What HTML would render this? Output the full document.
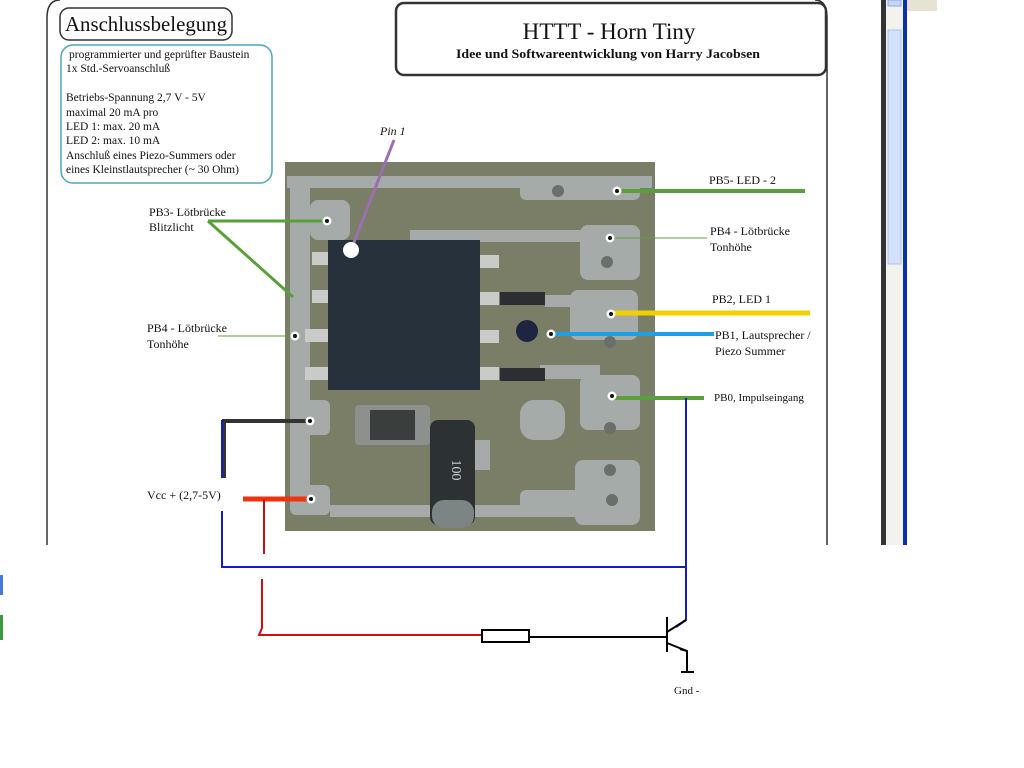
<!DOCTYPE html>
<html><head><meta charset="utf-8"><style>
html,body{margin:0;padding:0;background:#fff;width:1024px;height:768px;overflow:hidden}
svg{display:block}
text{font-family:"Liberation Serif",serif;fill:#111}
</style></head><body>
<svg width="1024" height="768" viewBox="0 0 1024 768">
<path d="M47,545 V18 Q47,0 60,0" fill="none" stroke="#333" stroke-width="1.5"/>
<path d="M815,0 Q827,0 827,18 V545" fill="none" stroke="#333" stroke-width="1.5"/>
<rect x="881" y="0" width="5" height="545" fill="#333"/>
<rect x="886" y="0" width="17" height="545" fill="#f3f3ee"/>
<rect x="888" y="30" width="13" height="234" fill="#d2e2fb" stroke="#a9c0ea"/>
<rect x="888" y="0" width="13" height="6" fill="#c5d6f5" stroke="#8aa7dd"/>
<rect x="903" y="0" width="4" height="545" fill="#0a2fb0"/>
<rect x="907" y="0" width="30" height="11" fill="#e6e3d5"/>
<rect x="0" y="575" width="3" height="20" fill="#4a7ad8"/>
<rect x="0" y="615" width="3" height="25" fill="#3c9a3c"/>
<rect x="396" y="3" width="430" height="72" rx="8" fill="#fff" stroke="#333" stroke-width="2.5"/>
<text x="609" y="39" font-size="23" text-anchor="middle">HTTT - Horn Tiny</text>
<text x="456" y="58" font-size="13" font-weight="bold" textLength="304" lengthAdjust="spacingAndGlyphs">Idee und Softwareentwicklung von Harry Jacobsen</text>
<rect x="60" y="8" width="172" height="32" rx="9" fill="#fff" stroke="#333" stroke-width="1.5"/>
<text x="65" y="31" font-size="21" textLength="162" lengthAdjust="spacingAndGlyphs">Anschlussbelegung</text>
<rect x="61" y="45" width="211" height="138" rx="12" fill="#fff" stroke="#4aa9b8" stroke-width="1.5"/>
<g font-size="11.5">
<text x="69" y="58"> programmierter und geprüfter Baustein</text>
<text x="66" y="72">1x Std.-Servoanschluß</text>
<text x="66" y="101">Betriebs-Spannung 2,7 V - 5V</text>
<text x="66" y="116">maximal 20 mA pro</text>
<text x="66" y="130">LED 1: max. 20 mA</text>
<text x="66" y="144">LED 2: max. 10 mA</text>
<text x="66" y="159">Anschluß eines Piezo-Summers oder</text>
<text x="66" y="173">eines Kleinstlautsprecher (~ 30 Ohm)</text>
</g>
<rect x="285" y="162" width="370" height="369" fill="#7b7e66"/>
<g fill="#a4aba9">
<rect x="287" y="176" width="365" height="12"/>
<path d="M290,178 h20 v330 h-20z"/>
<rect x="520" y="178" width="120" height="22" rx="6"/>
<rect x="310" y="200" width="40" height="40" rx="8"/>
<path d="M410,230 h230 v12 h-230z"/>
<rect x="580" y="225" width="60" height="55" rx="8"/>
<rect x="570" y="290" width="68" height="50" rx="8"/>
<path d="M545,295 h40 v12 h-40z"/>
<rect x="580" y="375" width="60" height="55" rx="8"/>
<path d="M540,365 h60 v14 h-60z"/>
<rect x="520" y="400" width="45" height="40" rx="14"/>
<rect x="575" y="460" width="65" height="65" rx="8"/>
<rect x="520" y="490" width="80" height="25" rx="6"/>
<rect x="290" y="485" width="40" height="30" rx="6"/>
<rect x="330" y="505" width="260" height="12"/>
<rect x="470" y="440" width="20" height="30"/>
<rect x="290" y="400" width="40" height="35" rx="6"/>
</g>
<g fill="#6b6f6a">
<circle cx="607" cy="262" r="6"/><circle cx="610" cy="342" r="6"/><circle cx="610" cy="428" r="6"/>
<circle cx="610" cy="470" r="6"/><circle cx="612" cy="500" r="6"/><circle cx="558" cy="191" r="6"/>
</g>
<g fill="#c8cbc8">
<rect x="312" y="252" width="22" height="13"/><rect x="312" y="290" width="22" height="13"/>
<rect x="305" y="329" width="29" height="13"/><rect x="305" y="367" width="29" height="13"/>
<rect x="479" y="255" width="20" height="13"/><rect x="479" y="292" width="20" height="13"/>
<rect x="479" y="330" width="20" height="13"/><rect x="479" y="367" width="20" height="13"/>
</g>
<rect x="500" y="292" width="45" height="13" fill="#2b2f34"/>
<rect x="500" y="368" width="45" height="13" fill="#2b2f34"/>
<circle cx="527" cy="331" r="11" fill="#1f2540"/>
<rect x="328" y="240" width="152" height="150" fill="#27313b"/>
<rect x="355" y="405" width="75" height="40" rx="4" fill="#8c918e"/>
<rect x="370" y="410" width="45" height="30" fill="#3a3f3d"/>
<rect x="430" y="420" width="45" height="105" rx="8" fill="#2c3133"/>
<text x="452" y="470" font-size="14" transform="rotate(90 452 470)" text-anchor="middle" style="fill:#c8cfcf">100</text>
<rect x="432" y="500" width="42" height="28" rx="12" fill="#7d8484"/>
<g fill="none">
<line x1="394" y1="140" x2="351" y2="250" stroke="#9b6fb0" stroke-width="3"/>
<line x1="208" y1="221" x2="327" y2="221" stroke="#5aa03a" stroke-width="3"/>
<line x1="208" y1="221" x2="293" y2="297" stroke="#5aa03a" stroke-width="3"/>
<line x1="218" y1="336" x2="295" y2="336" stroke="#5aa03a" stroke-width="1"/>
<line x1="617" y1="191" x2="805" y2="191" stroke="#5aa03a" stroke-width="4"/>
<line x1="610" y1="238" x2="707" y2="238" stroke="#5aa03a" stroke-width="1"/>
<line x1="611" y1="313" x2="810" y2="313" stroke="#f0d000" stroke-width="5"/>
<line x1="551" y1="334" x2="714" y2="334" stroke="#1aa0e8" stroke-width="4"/>
<line x1="612" y1="398" x2="704" y2="398" stroke="#5aa03a" stroke-width="4"/>
<polyline points="310,421 224,421 224,478" stroke="#333" stroke-width="4"/>
<polyline points="224,421 222,421 222,478" stroke="#1020c0" stroke-width="2"/>
<polyline points="222,511 222,567 686,567 686,398" stroke="#1020c0" stroke-width="2"/>
<polyline points="686,567 686,620 676,627" stroke="#1020c0" stroke-width="2"/>
<line x1="243" y1="499" x2="312" y2="499" stroke="#ee3311" stroke-width="5"/>
<polyline points="264,499 264,554" stroke="#cc1111" stroke-width="2"/>
<polyline points="262,579 262,628 259,635 482,635" stroke="#cc1111" stroke-width="2"/>
<rect x="482" y="630" width="47" height="12" stroke="#000" stroke-width="2" fill="#fff"/>
<line x1="529" y1="637" x2="667" y2="637" stroke="#000" stroke-width="2"/>
<line x1="667" y1="617" x2="667" y2="652" stroke="#000" stroke-width="2"/>
<line x1="667" y1="632" x2="686" y2="620" stroke="#000" stroke-width="2"/>
<polyline points="667,643 687,651 687,672" stroke="#000" stroke-width="2"/>
<line x1="680" y1="649" x2="687" y2="651" stroke="#000" stroke-width="2"/>
<line x1="681" y1="672" x2="694" y2="672" stroke="#000" stroke-width="2"/>
</g>
<g fill="#fff">
<circle cx="351" cy="250" r="8"/>
<circle cx="327" cy="221" r="4.5"/><circle cx="295" cy="336" r="4.5"/><circle cx="310" cy="421" r="4.5"/>
<circle cx="311" cy="499" r="4.5"/><circle cx="617" cy="191" r="4.5"/><circle cx="610" cy="238" r="4.5"/>
<circle cx="611" cy="314" r="4.5"/><circle cx="551" cy="334" r="4.5"/><circle cx="612" cy="396" r="4.5"/>
</g>
<g fill="#111">
<circle cx="327" cy="221" r="2"/><circle cx="295" cy="336" r="2"/><circle cx="310" cy="421" r="2"/>
<circle cx="311" cy="499" r="2"/><circle cx="617" cy="191" r="2"/><circle cx="610" cy="238" r="2"/>
<circle cx="611" cy="314" r="2"/><circle cx="551" cy="334" r="2"/><circle cx="612" cy="396" r="2"/>
</g>
<g font-size="12">
<text x="380" y="135" font-style="italic">Pin 1</text>
<text x="149" y="216">PB3- Lötbrücke</text>
<text x="149" y="231">Blitzlicht</text>
<text x="147" y="332">PB4 - Lötbrücke</text>
<text x="147" y="348">Tonhöhe</text>
<text x="147" y="499">Vcc +  (2,7-5V)</text>
<text x="709" y="184">PB5- LED - 2</text>
<text x="710" y="235">PB4 - Lötbrücke</text>
<text x="710" y="251">Tonhöhe</text>
<text x="712" y="303">PB2, LED 1</text>
<text x="715" y="339">PB1, Lautsprecher /</text>
<text x="715" y="355">Piezo Summer</text>
<text x="714" y="401" font-size="11">PB0, Impulseingang</text>
<text x="674" y="694" font-size="11">Gnd -</text>
</g>
</svg>
</body></html>
